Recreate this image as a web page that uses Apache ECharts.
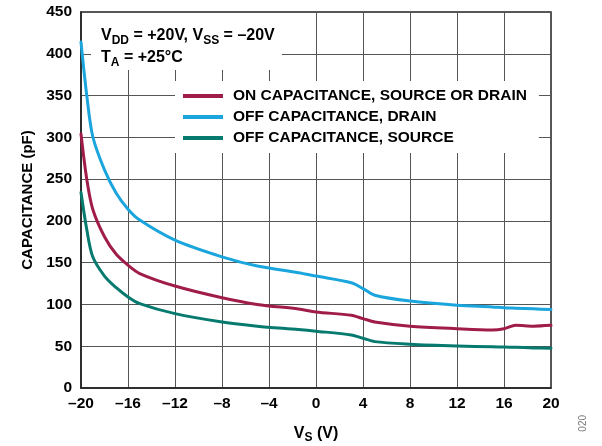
<!DOCTYPE html>
<html>
<head>
<meta charset="utf-8">
<script src="https://cdn.jsdelivr.net/npm/echarts@6/dist/echarts.min.js"></script>
<style>
  html, body { margin: 0; padding: 0; background: #fff; }
  #chart { width: 602px; height: 446px; }
</style>
</head>
<body>
<div id="chart"></div>
<script>
// Source voltage sample points (V)
const vs = [-20, -19.5, -19, -18, -17, -16, -15, -12, -8, -5, -1.5, 0, 3, 4, 5, 8, 12, 15, 16, 17, 18.5, 20];
// Capacitance values (pF)
const onCap     = [304, 249, 214, 181, 160, 147, 137, 122, 108, 100, 94.5, 91, 87, 83, 79, 74, 71, 69.5, 71, 75, 74, 75];
const offDrain  = [414, 349, 301, 261, 233, 214, 201, 177, 157, 146, 138, 134, 126, 119, 111, 104, 99, 97, 96, 95.5, 94.7, 94];
const offSource = [234, 189, 157, 134, 120, 109, 101, 89, 79, 74, 70, 68, 63.5, 59.5, 55.5, 52.5, 50.3, 49.3, 49, 48.7, 48, 47.5];

const seriesNames = ['ON CAPACITANCE, SOURCE OR DRAIN', 'OFF CAPACITANCE, DRAIN', 'OFF CAPACITANCE, SOURCE'];
const xTicks = { min: -20, max: 20, step: 4 };
const yTicks = { min: 0, max: 450, step: 50 };

const colors = ['#a01d4b', '#1aa5dd', '#067a6e'];
const font = 'Liberation Sans, Arial, sans-serif';

function pairs(ys) { return vs.map((v, i) => [v, ys[i]]); }
function dash(v) { return String(v).replace('-', '\u2013'); }

const chart = echarts.init(document.getElementById('chart'));
const lineSeries = [onCap, offDrain, offSource].map((ys, i) => ({
  name: seriesNames[i],
  type: 'line',
  data: pairs(ys),
  smooth: 0.3,
  showSymbol: false,
  lineStyle: { width: 3, color: colors[i], cap: 'round', join: 'round' },
  itemStyle: { color: colors[i] },
  z: 5 - i
}));

chart.setOption({
  animation: false,
  backgroundColor: '#fff',
  grid: {
    left: 81, right: 51, top: 12, bottom: 58,
    outerBoundsMode: 'none', containLabel: false,
    show: true, borderColor: '#222', borderWidth: 1.5
  },
  xAxis: {
    type: 'value', min: xTicks.min, max: xTicks.max, interval: xTicks.step,
    axisLine: { show: true, onZero: false, lineStyle: { color: '#222', width: 1.5 } },
    axisTick: { show: false },
    splitLine: { show: true, lineStyle: { color: '#555', width: 1 } },
    axisLabel: { formatter: dash, color: '#000', fontFamily: font, fontWeight: 'bold', fontSize: 15.5, margin: 8 },
    name: 'V{sub|S} (V)',
    nameLocation: 'middle', nameGap: 35,
    nameTextStyle: {
      color: '#000', fontFamily: font, fontWeight: 'bold', fontSize: 16,
      rich: { sub: { fontFamily: font, fontWeight: 'bold', fontSize: 12, verticalAlign: 'bottom', padding: [9, 0, 0, 0] } }
    }
  },
  yAxis: {
    type: 'value', min: yTicks.min, max: yTicks.max, interval: yTicks.step,
    axisLine: { show: true, onZero: false, lineStyle: { color: '#222', width: 1.5 } },
    axisTick: { show: false },
    splitLine: { show: true, lineStyle: { color: '#555', width: 1 } },
    axisLabel: { color: '#000', fontFamily: font, fontWeight: 'bold', fontSize: 15.5, margin: 9 },
    name: 'CAPACITANCE (pF)',
    nameLocation: 'middle', nameRotate: 90, nameGap: 43,
    nameTextStyle: { color: '#000', fontFamily: font, fontWeight: 'bold', fontSize: 15 }
  },
  legend: {
    orient: 'vertical', left: 175, top: 81,
    data: seriesNames,
    icon: 'rect', itemWidth: 40, itemHeight: 4, itemGap: 5,
    padding: [7, 12, 7, 8],
    backgroundColor: '#fff',
    textStyle: { color: '#000', fontFamily: font, fontWeight: 'bold', fontSize: 15.5, lineHeight: 16, padding: [0, 0, 0, 5] },
    z: 10
  },
  graphic: [
    // white panel behind the supply/temperature note, leaving the curves near the axis visible
    { type: 'rect', left: 91, top: 13, shape: { width: 191, height: 57 }, style: { fill: '#fff' }, z: 10 },
    {
      type: 'text', left: 101, top: 25, z: 11,
      style: {
        text: 'V{s|DD} = +20V, V{s|SS} = \u201320V\nT{s|A} = +25\u00b0C',
        fill: '#000', font: 'bold 16px ' + font, lineHeight: 22,
        rich: { s: { font: 'bold 12px ' + font, fill: '#000', padding: [9, 0, 0, 0] } }
      }
    },
    {
      type: 'text', left: 578, top: 415, rotation: Math.PI / 2, z: 11,
      style: { text: '020', fill: '#777', font: '10px ' + font }
    }
  ],
  series: lineSeries
});
</script>
</body>
</html>
